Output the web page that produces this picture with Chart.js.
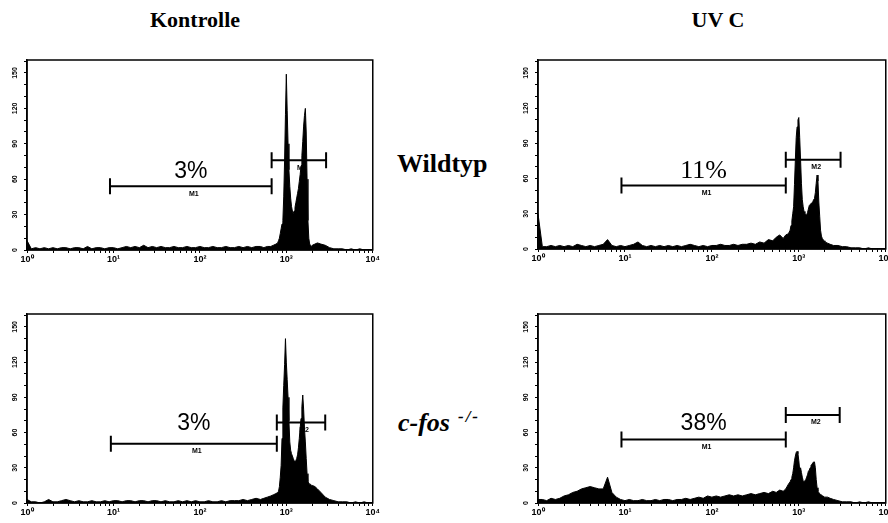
<!DOCTYPE html>
<html>
<head>
<meta charset="utf-8">
<script src="https://cdn.jsdelivr.net/npm/chart.js@4.4.1/dist/chart.umd.min.js"></script>
<style>
  html, body { margin: 0; padding: 0; background: #fff; width: 888px; height: 523px; overflow: hidden; }
  canvas { position: absolute; }
  .lbl { position: absolute; font-family: "Liberation Serif", "DejaVu Serif", serif; font-weight: bold; font-size: 22px; color: #000; white-space: nowrap; line-height: 1; }
</style>
</head>
<body>
<div class="lbl" style="left:95px;top:9px;width:200px;text-align:center">Kontrolle</div>
<div class="lbl" style="left:618px;top:9px;width:200px;text-align:center">UV C</div>
<div class="lbl" style="left:397px;top:151px;font-size:26px">Wildtyp</div>
<div class="lbl" style="left:398px;top:408px;font-size:26px;font-style:italic">c-fos<sup style="font-size:17px;margin-left:8px;letter-spacing:2px;vertical-align:9px">-/-</sup></div>

<canvas id="cWtKon" width="378" height="216" style="left:3px;top:52px"></canvas>
<canvas id="cWtUv" width="380" height="215" style="left:514px;top:52px"></canvas>
<canvas id="cFosKon" width="378" height="215" style="left:3px;top:306px"></canvas>
<canvas id="cFosUv" width="380" height="215" style="left:514px;top:306px"></canvas>

<script>
"use strict";

//CHANNELS (log10 of fluorescence, 0 = 10^0 ... 4 = 10^4)
const channels = [
    0, 0.05, 0.1, 0.15, 0.2, 0.25, 0.3, 0.35, 0.4, 0.45, 0.5, 0.55, 0.6, 0.65, 0.7, 0.75, 0.8, 0.85, 0.9, 0.95,
    1, 1.05, 1.1, 1.15, 1.2, 1.25, 1.3, 1.35, 1.4, 1.45, 1.5, 1.55, 1.6, 1.65, 1.7, 1.75, 1.8, 1.85, 1.9, 1.95,
    2, 2.05, 2.1, 2.15, 2.2, 2.25, 2.3, 2.35, 2.4, 2.45, 2.5, 2.55, 2.6, 2.65, 2.7,
    2.74, 2.78, 2.82, 2.85, 2.88,
    2.9, 2.91, 2.92, 2.93, 2.94, 2.95, 2.96, 2.97, 2.98, 2.99,
    3, 3.01, 3.02, 3.03, 3.04, 3.05, 3.06, 3.07, 3.08, 3.09,
    3.1, 3.11, 3.12, 3.13, 3.14, 3.15, 3.16, 3.17, 3.18, 3.19,
    3.2, 3.21, 3.22, 3.23, 3.24, 3.25, 3.26, 3.27, 3.28, 3.29, 3.3,
    3.33, 3.36, 3.4,
    3.45, 3.5, 3.55, 3.6, 3.65, 3.7, 3.75, 3.8, 3.85, 3.9, 3.95, 4
];

//COUNTS
const countsWtKontrolle = [
    8, 1, 2, 1, 2, 1, 2, 1, 2, 2, 1, 2, 2, 1, 3, 1, 2, 2, 1, 2,
    2, 1, 2, 3, 2, 3, 2, 4, 2, 3, 2, 3, 2, 2, 3, 2, 2, 3, 2, 2,
    3, 2, 2, 3, 2, 2, 3, 2, 2, 3, 2, 3, 2, 3, 3,
    2, 3, 3, 4, 5,
    6, 8, 10, 14, 18, 22, 25, 45, 76, 115,
    149, 118, 90, 68, 54, 44, 37, 33, 31, 33,
    36, 40, 44, 48, 52, 58, 64, 71, 80, 92,
    105, 114, 120, 100, 60, 25, 10, 5, 4, 3, 4,
    5, 6, 5,
    4, 2, 1, 1, 1, 0, 1, 0, 1, 0, 0, 0
];
const countsWtUVC = [
    30, 2, 2, 3, 2, 3, 2, 3, 2, 4, 3, 2, 3, 2, 3, 4, 8, 3, 2, 3,
    2, 3, 4, 6, 3, 2, 3, 2, 3, 2, 3, 2, 3, 2, 3, 4, 3, 2, 3, 2,
    3, 3, 4, 3, 3, 4, 3, 4, 4, 5, 4, 6, 5, 8, 7,
    10, 12, 9, 12, 13,
    16, 20, 24, 30, 36, 55, 76, 95, 104, 110,
    112, 95, 76, 56, 42, 36, 32, 30, 29, 29,
    31, 34, 37, 38, 39, 39, 40, 42, 43, 48,
    56, 63, 58, 40, 28, 16, 11, 9, 8, 7, 6,
    5, 4, 3,
    3, 2, 2, 1, 1, 1, 0, 1, 0, 0, 0, 0
];
const countsFosKontrolle = [
    3, 1, 1, 0, 1, 3, 1, 1, 2, 3, 2, 1, 2, 1, 1, 2, 1, 1, 2, 1,
    2, 2, 1, 2, 2, 1, 2, 2, 1, 2, 2, 1, 2, 1, 1, 2, 1, 2, 1, 2,
    1, 1, 2, 1, 1, 2, 1, 2, 2, 2, 3, 2, 3, 4, 3,
    4, 5, 6, 7, 8,
    9, 10, 14, 22, 32, 55, 81, 100, 118, 140,
    120, 105, 90, 70, 52, 45, 42, 40, 38, 36,
    35, 36, 38, 41, 47, 55, 64, 72, 82, 92,
    80, 64, 52, 38, 25, 18, 17, 16, 16, 15, 15,
    14, 12, 9,
    5, 3, 2, 1, 1, 1, 0, 1, 0, 1, 0, 0
];
const countsFosUVC = [
    3, 3, 2, 4, 3, 4, 6, 7, 9, 10, 12, 13, 14, 13, 12, 12, 22, 9, 5, 3,
    2, 3, 2, 2, 3, 2, 2, 3, 2, 3, 3, 2, 3, 3, 4, 3, 4, 5, 4, 6,
    5, 6, 5, 6, 7, 6, 7, 6, 7, 8, 7, 8, 9, 8, 10,
    9, 11, 10, 12, 16,
    18, 20, 22, 25, 30, 36, 40, 43, 44, 42,
    36, 28, 30, 26, 22, 19, 18, 18, 20, 22,
    24, 27, 28, 30, 32, 33, 34, 35, 35, 30,
    20, 13, 10, 9, 8, 7, 7, 6, 6, 5, 5,
    5, 4, 3,
    2, 1, 1, 1, 0, 1, 0, 1, 0, 0, 0, 0
];

//MARKERS M1 / M2 (in decades) AND PERCENT IN M1
const m1From = [0.96, 0.96, 0.97, 0.96];
const m1To = [2.83, 2.85, 2.89, 2.85];
const m1Level = [54, 54, 50.5, 54];
const m2From = [2.83, 2.85, 2.89, 2.85];
const m2To = [3.46, 3.48, 3.45, 3.47];
const m2Level = [76, 76, 68.5, 75];
const percentM1 = ["3%", "11%", "3%", "38%"];

//TICKS
const decadeLabels = ["10⁰", "10¹", "10²", "10³", "10⁴"];
const yLabelValues = [0, 30, 60, 90, 120, 150];
const yTickValues = [0, 10, 20, 30, 40, 50, 60, 70, 80, 90, 100, 110, 120, 130, 140, 150, 160];

const panels = [
    { id: "cWtKon", counts: countsWtKontrolle, pctFont: "23px 'Liberation Sans', Arial, sans-serif", pctGap: 8 },
    { id: "cWtUv", counts: countsWtUVC, pctFont: "26px 'Liberation Serif', 'Times New Roman', serif", pctGap: 8 },
    { id: "cFosKon", counts: countsFosKontrolle, pctFont: "23px 'Liberation Sans', Arial, sans-serif", pctGap: 14 },
    { id: "cFosUv", counts: countsFosUVC, pctFont: "23px 'Liberation Sans', Arial, sans-serif", pctGap: 10 }
];

function xTicks() {
    let t = [];
    for (let d = 0; d <= 4; d++) {
        t.push(d);
        if (d < 4)
            for (let m = 2; m <= 9; m++) t.push(d + Math.log10(m));
    }
    return t;
}

function drawMarker(ctx, xs, ys, from, to, level, name) {
    let x1 = xs.getPixelForValue(from), x2 = xs.getPixelForValue(to), y = ys.getPixelForValue(level);
    ctx.lineWidth = 2;
    ctx.beginPath();
    ctx.moveTo(x1, y); ctx.lineTo(x2, y);
    ctx.moveTo(x1, y - 8); ctx.lineTo(x1, y + 8);
    ctx.moveTo(x2, y - 8); ctx.lineTo(x2, y + 8);
    ctx.stroke();
    ctx.font = "bold 7px 'Liberation Sans', Arial, sans-serif";
    ctx.textAlign = "center";
    ctx.textBaseline = "top";
    ctx.fillText(name, (x1 + x2) / 2 + 3, y + 4);
}

const facsPlugin = {
    id: "facsMarks",
    afterDraw(chart) {
        let i = chart.options.plugins.facsMarks.index;
        let ctx = chart.ctx, xs = chart.scales.x, ys = chart.scales.y, a = chart.chartArea;
        ctx.save();
        ctx.strokeStyle = "#000";
        ctx.fillStyle = "#000";
        //FRAME
        ctx.lineWidth = 1.5;
        ctx.strokeRect(a.left, a.top, a.right - a.left, a.bottom - a.top);
        //MARKERS
        drawMarker(ctx, xs, ys, m1From[i], m1To[i], m1Level[i], "M1");
        drawMarker(ctx, xs, ys, m2From[i], m2To[i], m2Level[i], "M2");
        //PERCENT
        ctx.font = panels[i].pctFont;
        ctx.textAlign = "center";
        ctx.textBaseline = "alphabetic";
        ctx.fillText(percentM1[i],
            (xs.getPixelForValue(m1From[i]) + xs.getPixelForValue(m1To[i])) / 2,
            ys.getPixelForValue(m1Level[i]) - panels[i].pctGap);
        ctx.restore();
    }
};

const tickFont = { family: "'Liberation Sans', Arial, sans-serif", size: 9, weight: "bold" };

for (let i = 0; i < panels.length; i++) {
    let pts = [];
    for (let k = 0; k < channels.length; k++) pts.push({ x: channels[k], y: panels[i].counts[k] });
    new Chart(document.getElementById(panels[i].id), {
        type: "line",
        data: {
            datasets: [{
                data: pts,
                fill: "origin",
                backgroundColor: "#000",
                borderColor: "#000",
                borderWidth: 1,
                pointRadius: 0,
                tension: 0
            }]
        },
        options: {
            responsive: false,
            animation: false,
            devicePixelRatio: 1,
            layout: { padding: { left: 0, top: 8, right: 8, bottom: 0 } },
            plugins: { legend: { display: false }, tooltip: { enabled: false }, facsMarks: { index: i } },
            scales: {
                x: {
                    type: "linear", min: 0, max: 4,
                    afterBuildTicks: s => { s.ticks = xTicks().map(v => ({ value: v })); },
                    afterFit: s => { s.height = 18; },
                    ticks: {
                        autoSkip: false, maxRotation: 0, padding: 1, color: "#000", font: tickFont,
                        callback: v => Number.isInteger(v) ? decadeLabels[v] : ""
                    },
                    grid: { drawOnChartArea: false, tickLength: 3, color: "#000" },
                    border: { color: "#000", width: 1.5 }
                },
                y: {
                    min: 0, max: 161,
                    afterBuildTicks: s => { s.ticks = yTickValues.map(v => ({ value: v })); },
                    afterFit: s => { s.width = 24; },
                    ticks: {
                        autoSkip: false, minRotation: 90, maxRotation: 90, crossAlign: "center", padding: 3,
                        color: "#000", font: { family: "'Liberation Sans', Arial, sans-serif", size: 7, weight: "bold" },
                        callback: v => yLabelValues.includes(v) ? String(v) : ""
                    },
                    grid: { drawOnChartArea: false, tickLength: 3, color: "#000" },
                    border: { color: "#000", width: 1.5 }
                }
            }
        },
        plugins: [facsPlugin]
    });
}
</script>
</body>
</html>
